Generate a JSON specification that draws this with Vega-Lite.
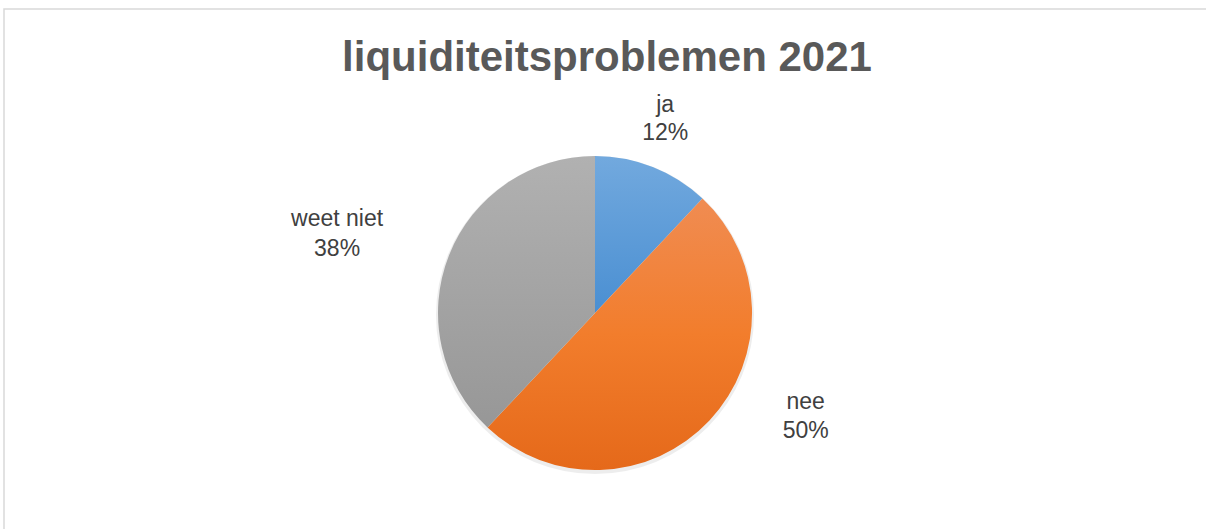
{
  "$schema": "https://vega.github.io/schema/vega-lite/v6.json",
  "width": 1208,
  "height": 526,
  "autosize": "none",
  "padding": {"left": 4, "top": 9, "right": 0, "bottom": 0},
  "background": "white",
  "view": {"stroke": "#D9D9D9", "strokeWidth": 1.5, "fill": "white"},
  "title": {
    "text": "liquiditeitsproblemen 2021",
    "font": "Liberation Sans",
    "fontSize": 42,
    "fontWeight": "bold",
    "color": "#595959",
    "anchor": "middle",
    "baseline": "alphabetic",
    "offset": -104,
    "dx": -1
  },
  "data": {
    "values": [
      {"category": "ja", "value": 12, "order": 1},
      {"category": "nee", "value": 50, "order": 2},
      {"category": "weet niet", "value": 38, "order": 3}
    ]
  },
  "transform": [
    {"stack": "value", "groupby": [], "sort": [{"field": "order"}], "as": ["v0", "v1"]},
    {"calculate": "(datum.v0 + datum.v1) / 2", "as": "vmid"},
    {"calculate": "[datum.category, datum.value + '%']", "as": "label"}
  ],
  "layer": [
    {
      "transform": [{"filter": "datum.order == 1"}],
      "mark": {"type": "arc", "radius": 159, "fill": "#000000", "fillOpacity": 0.07, "xOffset": -13, "yOffset": 43},
      "encoding": {}
    },
    {
      "transform": [{"filter": "datum.category == 'ja'"}],
      "mark": {"type": "arc", "radius": 157, "xOffset": -13, "yOffset": 41,
        "fill": {"gradient": "linear", "x1": 0, "y1": 0, "x2": 0, "y2": 1,
          "stops": [{"offset": 0, "color": "#72A9DE"}, {"offset": 1, "color": "#4A8FD2"}]}},
      "encoding": {
        "theta": {"field": "v0", "type": "quantitative", "scale": {"domain": [0, 100]}},
        "theta2": {"field": "v1"}
      }
    },
    {
      "transform": [{"filter": "datum.category == 'nee'"}],
      "mark": {"type": "arc", "radius": 157, "xOffset": -13, "yOffset": 41,
        "fill": {"gradient": "linear", "x1": 0, "y1": 0, "x2": 0, "y2": 1,
          "stops": [{"offset": 0, "color": "#F08C52"}, {"offset": 0.5, "color": "#F27D2C"}, {"offset": 1, "color": "#E5691A"}]}},
      "encoding": {
        "theta": {"field": "v0", "type": "quantitative", "scale": {"domain": [0, 100]}},
        "theta2": {"field": "v1"}
      }
    },
    {
      "transform": [{"filter": "datum.category == 'weet niet'"}],
      "mark": {"type": "arc", "radius": 157, "xOffset": -13, "yOffset": 41,
        "fill": {"gradient": "linear", "x1": 0, "y1": 0, "x2": 0, "y2": 1,
          "stops": [{"offset": 0, "color": "#B1B1B1"}, {"offset": 1, "color": "#979797"}]}},
      "encoding": {
        "theta": {"field": "v0", "type": "quantitative", "scale": {"domain": [0, 100]}},
        "theta2": {"field": "v1"}
      }
    },
    {
      "transform": [{"filter": "datum.category == 'ja'"}],
      "mark": {"type": "text", "radius": 215, "xOffset": -13, "yOffset": 41, "dx": -9, "dy": -8,
        "font": "Liberation Sans", "fontSize": 23, "color": "#404040", "lineHeight": 28, "align": "center", "baseline": "middle"},
      "encoding": {
        "theta": {"field": "vmid", "type": "quantitative", "scale": {"domain": [0, 100]}},
        "text": {"field": "label"}
      }
    },
    {
      "transform": [{"filter": "datum.category == 'nee'"}],
      "mark": {"type": "text", "radius": 215, "xOffset": -13, "yOffset": 41, "dx": 54, "dy": -58,
        "font": "Liberation Sans", "fontSize": 23, "color": "#404040", "lineHeight": 29, "align": "center", "baseline": "middle"},
      "encoding": {
        "theta": {"field": "vmid", "type": "quantitative", "scale": {"domain": [0, 100]}},
        "text": {"field": "label"}
      }
    },
    {
      "transform": [{"filter": "datum.category == 'weet niet'"}],
      "mark": {"type": "text", "radius": 215, "xOffset": -13, "yOffset": 41, "dx": -58, "dy": -15,
        "font": "Liberation Sans", "fontSize": 23, "color": "#404040", "lineHeight": 30, "align": "center", "baseline": "middle"},
      "encoding": {
        "theta": {"field": "vmid", "type": "quantitative", "scale": {"domain": [0, 100]}},
        "text": {"field": "label"}
      }
    }
  ]
}
